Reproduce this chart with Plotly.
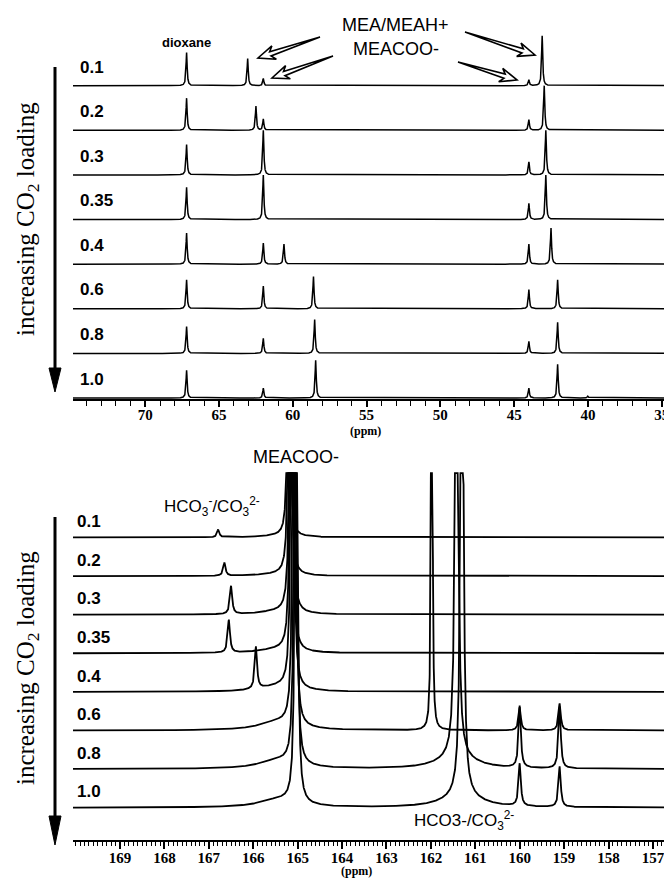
import numpy as np
import plotly.graph_objects as go

PAGE_W, PAGE_H = 672, 879
OFF = 8                      # default body margin of the written page
W, H = PAGE_W - OFF, PAGE_H - OFF

loadings = ["0.1", "0.2", "0.3", "0.35", "0.4", "0.6", "0.8", "1.0"]

# ---- upper panel (aliphatic 13C region): peak positions (ppm) and heights (units of trace spacing)
top_ppm = [
    [67.2, 63.06, 62.0, 44.0, 43.1],
    [67.2, 62.5, 62.0, 44.0, 42.96],
    [67.2, 62.0, 44.0, 42.85],
    [67.2, 62.0, 44.0, 42.85],
    [67.2, 62.0, 60.6, 44.0, 42.5],
    [67.2, 62.0, 58.6, 44.0, 42.05],
    [67.2, 62.0, 58.52, 44.0, 42.05],
    [67.2, 62.0, 58.45, 44.0, 42.05, 40.0],
]
top_height = [
    [0.74, 0.61, 0.16, 0.13, 1.12],
    [0.72, 0.54, 0.25, 0.24, 1.0],
    [0.68, 1.0, 0.29, 1.0],
    [0.72, 1.0, 0.36, 1.0],
    [0.70, 0.47, 0.45, 0.45, 0.81],
    [0.65, 0.51, 0.72, 0.43, 0.65],
    [0.60, 0.34, 0.76, 0.27, 0.70],
    [0.62, 0.22, 0.85, 0.22, 0.76, 0.04],
]
top_hwhm = 0.045

# ---- lower panel (carbonyl region): peak positions (ppm), heights, half widths (ppm)
bot_ppm = [
    [166.79, 165.20, 165.45],
    [166.65, 165.18, 165.45],
    [166.50, 165.15, 165.45],
    [166.55, 165.14, 165.45],
    [165.94, 165.12, 165.45],
    [165.08, 165.45, 161.98, 160.00, 159.10],
    [165.05, 165.45, 161.42, 161.42, 160.00, 159.10],
    [165.03, 165.45, 161.30, 161.30, 160.00, 159.10],
]
bot_height = [
    [0.20, 15, 0.04],
    [0.34, 20, 0.05],
    [0.73, 25, 0.08],
    [0.85, 25, 0.10],
    [1.09, 28, 0.14],
    [30, 0.22, 90, 0.60, 0.70],
    [30, 0.22, 20, 0.30, 1.60, 1.60],
    [30, 0.20, 20, 0.30, 1.10, 1.05],
]
bot_hwhm = [
    [0.03, 0.02, 0.5],
    [0.03, 0.02, 0.5],
    [0.03, 0.02, 0.5],
    [0.03, 0.02, 0.5],
    [0.03, 0.02, 0.5],
    [0.02, 0.5, 0.006, 0.03, 0.03],
    [0.02, 0.5, 0.03, 0.5, 0.03, 0.03],
    [0.02, 0.5, 0.03, 0.5, 0.03, 0.03],
]

top_ticks = [35, 40, 45, 50, 55, 60, 65, 70]
bot_ticks = [157, 158, 159, 160, 161, 162, 163, 164, 165, 166, 167, 168, 169]

# ---- geometry helpers (page pixels -> paper)
def px(x):
    return (x - OFF) / W

def py(y):
    return 1 - (y - OFF) / H

TOP_RANGE = [74.9, 34.3]
BOT_RANGE = [170.06, 156.57]
TOP_Y = [-0.022, 8.92 - OFF / 44.6]
BOT_Y = [-0.837, 8.878]
BOT_CLIP = 8.67

def lorentz(x, x0, h, g):
    return h * g * g / ((x - x0) ** 2 + g * g)

fig = go.Figure()
n = len(loadings)

xt = np.arange(TOP_RANGE[1], TOP_RANGE[0], 0.004)
for i, lab in enumerate(loadings):
    off = n - 1 - i
    y = np.full_like(xt, float(off))
    for p, h in zip(top_ppm[i], top_height[i]):
        y = y + lorentz(xt, p, h, top_hwhm)
    fig.add_trace(go.Scatter(x=xt, y=y, mode="lines", xaxis="x", yaxis="y",
                             line=dict(color="black", width=1.5),
                             showlegend=False, hoverinfo="skip", name=lab))

xb = np.arange(BOT_RANGE[1], BOT_RANGE[0], 0.0015)
for i, lab in enumerate(loadings):
    off = n - 1 - i
    y = np.full_like(xb, float(off))
    for p, h, g in zip(bot_ppm[i], bot_height[i], bot_hwhm[i]):
        y = y + lorentz(xb, p, h, g)
    y = np.minimum(y, BOT_CLIP)
    fig.add_trace(go.Scatter(x=xb, y=y, mode="lines", xaxis="x2", yaxis="y2",
                             line=dict(color="black", width=1.8),
                             showlegend=False, hoverinfo="skip", name=lab))

tickfont = dict(family="Liberation Serif", size=15, color="black", weight="bold")

fig.update_layout(
    width=W, height=H, autosize=False,
    margin=dict(l=0, r=0, t=0, b=0),
    paper_bgcolor="white", plot_bgcolor="white",
    xaxis=dict(domain=[px(73), 1], range=TOP_RANGE, anchor="y",
               showline=True, linecolor="black", linewidth=1.5,
               ticks="outside", tickvals=top_ticks, ticklen=6, tickwidth=1.5,
               tickcolor="black", showgrid=False, zeroline=False,
               ticklabelstandoff=-5,
               minor=dict(tick0=0, dtick=1, ticks="outside", ticklen=5,
                          tickwidth=1.2, tickcolor="black", showgrid=False),
               tickfont=tickfont),
    yaxis=dict(domain=[py(399), 1], range=TOP_Y, visible=False),
    xaxis2=dict(domain=[px(73), 1], range=BOT_RANGE, anchor="y2",
                showline=True, linecolor="black", linewidth=1.5,
                ticks="outside", tickvals=bot_ticks, ticklen=7, tickwidth=1.5,
                tickcolor="black", showgrid=False, zeroline=False,
                ticklabelstandoff=-4,
                minor=dict(tick0=0, dtick=0.1, ticks="outside", ticklen=4,
                           tickwidth=1, tickcolor="black", showgrid=False),
                tickfont=tickfont),
    yaxis2=dict(domain=[py(840), py(465)], range=BOT_Y, visible=False),
)

ann = []

def text(x, y, s, size, family="Liberation Sans", weight="normal", angle=0,
         xanchor="center"):
    ann.append(dict(x=px(x), y=py(y), xref="paper", yref="paper", text=s,
                    showarrow=False, xanchor=xanchor, yanchor="middle",
                    textangle=angle,
                    font=dict(family=family, size=size, color="black",
                              weight=weight)))

# loading labels
top_base = [86 + 44.6 * k for k in range(n)]
bot_base = [537.7 + 38.6 * k for k in range(n)]
for k, lab in enumerate(loadings):
    text(78, top_base[k] - 19, lab, 17, weight="bold", xanchor="left")
    text(75, bot_base[k] - 16, lab, 17, weight="bold", xanchor="left")

# annotations top
text(186, 42, "dioxane", 13, weight="bold")
text(395, 25, "MEA/MEAH+", 18)
text(396, 49, "MEACOO-", 18)
text(365, 431, "(ppm)", 12, family="Liberation Serif", weight="bold")
# annotations bottom
text(296, 457, "MEACOO-", 18)
text(212, 506, "HCO<sub>3</sub><sup>-</sup>/CO<sub>3</sub><sup>2-</sup>", 17)
text(464, 820, "HCO3-/CO<sub>3</sub><sup>2-</sup>", 17)
text(356, 871, "(ppm)", 12, family="Liberation Serif", weight="bold")

# vertical side labels
text(27, 219, "increasing CO<sub>2</sub> loading", 25,
     family="Liberation Serif", angle=-90)
text(27, 668, "increasing CO<sub>2</sub> loading", 25,
     family="Liberation Serif", angle=-90)

fig.update_layout(annotations=ann)

shapes = []

def seg_path(points_list, close=False):
    parts = []
    for pts in points_list:
        s = "M {:.5f},{:.5f}".format(px(pts[0][0]), py(pts[0][1]))
        for (a, b) in pts[1:]:
            s += " L {:.5f},{:.5f}".format(px(a), py(b))
        if close:
            s += " Z"
        parts.append(s)
    return " ".join(parts)

# vertical arrows (line + filled head)
for (y0, y1, ytip) in [(67, 372, 392), (517, 820, 845)]:
    shapes.append(dict(type="line", xref="paper", yref="paper",
                       x0=px(55), x1=px(55), y0=py(y0), y1=py(y1),
                       line=dict(color="black", width=3)))
    shapes.append(dict(type="path", xref="paper", yref="paper",
                       path=seg_path([[(49, y1 - 4), (61, y1 - 4), (55, ytip)]], close=True),
                       fillcolor="black", line=dict(color="black", width=1)))

# hollow pointer arrows
def pointer(tail, tip, Lh=13, hw=7, sw=2.2):
    ux, uy = tail[0] - tip[0], tail[1] - tip[1]
    nrm = np.hypot(ux, uy)
    ux, uy = ux / nrm, uy / nrm
    nx, ny = -uy, ux
    base = (tip[0] + ux * Lh, tip[1] + uy * Lh)
    barb = (tip[0] + ux * (Lh + 4), tip[1] + uy * (Lh + 4))
    pts = [
        tail,
        (base[0] + nx * sw, base[1] + ny * sw),
        (barb[0] + nx * hw, barb[1] + ny * hw),
        tip,
        (barb[0] - nx * hw, barb[1] - ny * hw),
        (base[0] - nx * sw, base[1] - ny * sw),
    ]
    shapes.append(dict(type="path", xref="paper", yref="paper",
                       path=seg_path([pts], close=True), fillcolor="white",
                       line=dict(color="black", width=1.6)))

pointer((320, 37), (258, 58))
pointer((333, 56), (272, 78))
pointer((465, 32), (535, 55))
pointer((458, 62), (517, 80))

fig.update_layout(shapes=shapes)

fig.write_html("out.html")
